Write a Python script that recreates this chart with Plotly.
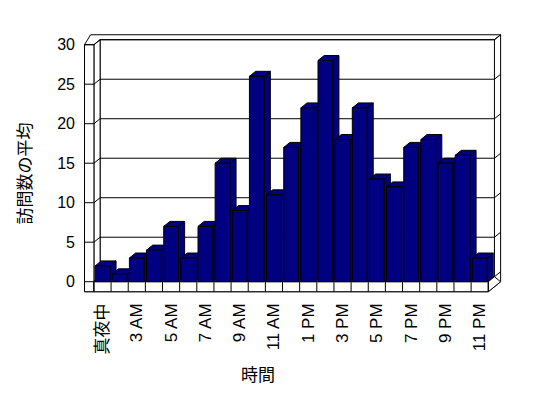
import plotly.graph_objects as go

# ---- data ----
hours = ["真夜中", "1 AM", "3 AM", "4 AM", "5 AM", "6 AM", "7 AM", "8 AM", "9 AM",
         "10 AM", "11 AM", "12 PM", "1 PM", "2 PM", "3 PM", "4 PM", "5 PM", "6 PM",
         "7 PM", "8 PM", "9 PM", "10 PM", "11 PM"]
visits = [2, 1, 3, 4, 7, 3, 7, 15, 9, 26, 11, 17, 22, 28, 18, 22, 13, 12, 17, 18, 15, 16, 3]
y_ticks = [0, 5, 10, 15, 20, 25, 30]
x_title = "時間"
y_title = "訪問数の平均"

# ---- style / geometry ----
NAVY = "#000080"
FONT = "Liberation Sans, Arial, Noto Sans CJK JP, sans-serif"
n = len(hours)
xs = list(range(n))
W = 0.86          # bar width (category units)
DX, DY = 0.36, 0.63   # 3D depth offset (category units, value units)
WT = 0.55         # left wall thickness
FT = 1.27         # floor thickness
YMAX = y_ticks[-1]
xl, xr = -0.5, n - 0.5

shapes = []


def _path(pts, close=True):
    s = "M " + " L ".join(f"{x:.4f},{y:.4f}" for x, y in pts)
    return s + (" Z" if close else "")


def poly(pts, fill="white"):
    shapes.append(dict(type="path", xref="x", yref="y", layer="below",
                       path=_path(pts), fillcolor=fill,
                       line=dict(color="black", width=1)))


def polyline(pts):
    shapes.append(dict(type="path", xref="x", yref="y", layer="below",
                       path=_path(pts, close=False), fillcolor="rgba(0,0,0,0)",
                       line=dict(color="black", width=1)))


# walls
poly([(xl - WT, -FT), (xl - WT, YMAX), (xl - WT + DX, YMAX + 2 * DY),
      (xr + 2 * DX, YMAX + 2 * DY), (xr + 2 * DX, 2 * DY - FT), (xr, -FT)])
poly([(xl + DX, DY), (xl + DX, YMAX + DY), (xr + DX, YMAX + DY), (xr + DX, DY)])
poly([(xl, 0), (xl, YMAX), (xl + DX, YMAX + DY), (xl + DX, DY)])
poly([(xl - WT, -FT), (xl - WT, YMAX), (xl, YMAX), (xl, -FT)])
polyline([(xr + DX, YMAX + DY), (xr + 2 * DX, YMAX + 2 * DY)])

# gridlines wrapping the walls
for v in y_ticks:
    polyline([(xl - WT, v), (xl, v), (xl + DX, v + DY), (xr + DX, v + DY),
              (xr + 2 * DX, v + 2 * DY)])

# floor
poly([(xl, 0), (xr, 0), (xr + DX, DY), (xl + DX, DY)])
poly([(xr, -FT), (xr, 0), (xr + DX, DY), (xr + 2 * DX, 2 * DY - FT)])
poly([(xl, -FT), (xl, 0), (xr, 0), (xr, -FT)])
for k in range(n + 1):
    polyline([(xl + k, -FT), (xl + k, 0)])

# bar depth faces (top + side)
for i, v in zip(xs, visits):
    a, b = i - W / 2, i + W / 2
    poly([(b, 0), (b, v), (b + DX, v + DY), (b + DX, DY)], NAVY)
    poly([(a, v), (b, v), (b + DX, v + DY), (a + DX, v + DY)], NAVY)

fig = go.Figure()
fig.add_trace(go.Bar(x=xs, y=visits, width=W,
                     marker=dict(color=NAVY, line=dict(color="black", width=1)),
                     hoverinfo="x+y", showlegend=False))

fig.update_layout(
    width=540, height=390,
    margin=dict(l=68, r=28, t=17, b=103),
    paper_bgcolor="white", plot_bgcolor="white",
    font=dict(family=FONT, size=16, color="black"),
    shapes=shapes,
    showlegend=False,
    xaxis=dict(range=[-1.5457, 24.351], tickvals=xs[::2], ticktext=hours[::2],
               tickangle=-90, showgrid=False, zeroline=False, showline=False,
               ticks="", fixedrange=True, ticklabelstandoff=4,
               tickfont=dict(size=17, color="black")),
    yaxis=dict(range=[-1.684, 32.494], tickvals=y_ticks, showgrid=False,
               zeroline=False, showline=False, ticks="", fixedrange=True,
               tickfont=dict(size=16, color="black")),
    annotations=[
        dict(text=x_title, xref="paper", yref="paper", x=0.41, y=0,
             xanchor="center", yanchor="middle", yshift=-80, showarrow=False,
             font=dict(size=17)),
        dict(text=y_title, xref="paper", yref="paper", x=0, y=0.45,
             xanchor="center", yanchor="middle", xshift=-51, textangle=-90,
             showarrow=False, font=dict(size=17)),
    ],
)

fig.write_html("out.html")
